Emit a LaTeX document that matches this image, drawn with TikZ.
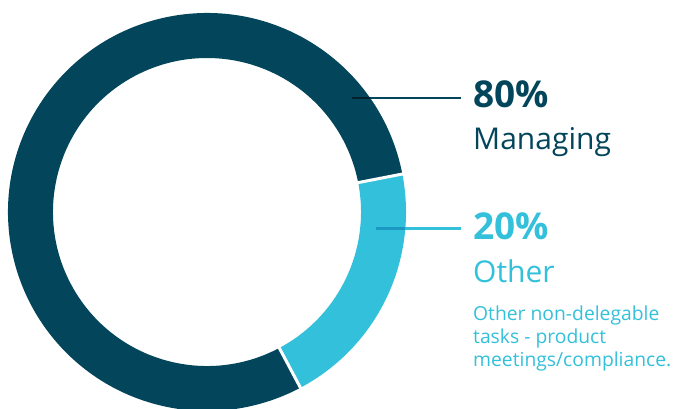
\documentclass[tikz,border=0pt]{standalone}
\usepackage{fontspec}
\setmainfont{Open Sans}
\usetikzlibrary{calc}
\definecolor{ringdark}{HTML}{03465C}
\definecolor{ringlight}{HTML}{33C0DA}
\definecolor{leaddarkover}{HTML}{06212D}
\definecolor{leadlightover}{HTML}{1A98C2}
\tikzset{
  pct/.style={anchor=base west, inner sep=0pt, font=\fontsize{37}{42}\selectfont\bfseries},
  lbl/.style={anchor=base west, inner sep=0pt, font=\fontsize{30}{35}\selectfont},
  desc/.style={anchor=base west, inner sep=0pt, text=ringlight, font=\fontsize{19.3}{23}\selectfont},
  leader/.style={line width=2.2pt},
  gapline/.style={white, line width=3pt}
}
\begin{document}
\begin{tikzpicture}[x=1pt,y=1pt]
\useasboundingbox (0,0) rectangle (675,408);
\coordinate (c) at (207,196);
% ring sectors
\fill[ringdark] ($(c)+(11:199)$) arc[start angle=11, end angle=298, radius=199]
  -- ($(c)+(298:154)$) arc[start angle=298, end angle=11, radius=154] -- cycle;
\fill[ringlight] ($(c)+(-62:199)$) arc[start angle=-62, end angle=11, radius=199]
  -- ($(c)+(11:154)$) arc[start angle=11, end angle=-62, radius=154] -- cycle;
% gaps
\draw[gapline] ($(c)+(11:150)$) -- ($(c)+(11:203)$);
\draw[gapline] ($(c)+(-62:150)$) -- ($(c)+(-62:203)$);
% labels
\node[pct, text=ringdark] (p80) at (473,300.3) {80\%};
\node[lbl, text=ringdark] (managing) at (473,259) {Managing};
\node[pct, text=ringlight] (p20) at (473,169) {20\%};
\node[lbl, text=ringlight] (other) at (473,125.7) {Other};
\node[desc] (d1) at (473,87.3) {Other non-delegable};
\node[desc] (d2) at (473,64.3) {tasks - product};
\node[desc] (d3) at (473,41.3) {meetings/compliance.};
% leaders
\coordinate (l80) at (352,310.3);
\coordinate (l80o) at (369.9,310.3);
\coordinate (l80e) at (461,310.3);
\coordinate (l20) at (376,179.5);
\coordinate (l20o) at (405.3,179.5);
\coordinate (l20e) at (461,179.5);
\draw[leader, ringdark] (l80o) -- (l80e);
\draw[leader, leaddarkover] (l80) -- (l80o);
\draw[leader, ringlight] (l20o) -- (l20e);
\draw[leader, leadlightover] (l20) -- (l20o);
\end{tikzpicture}
\end{document}
